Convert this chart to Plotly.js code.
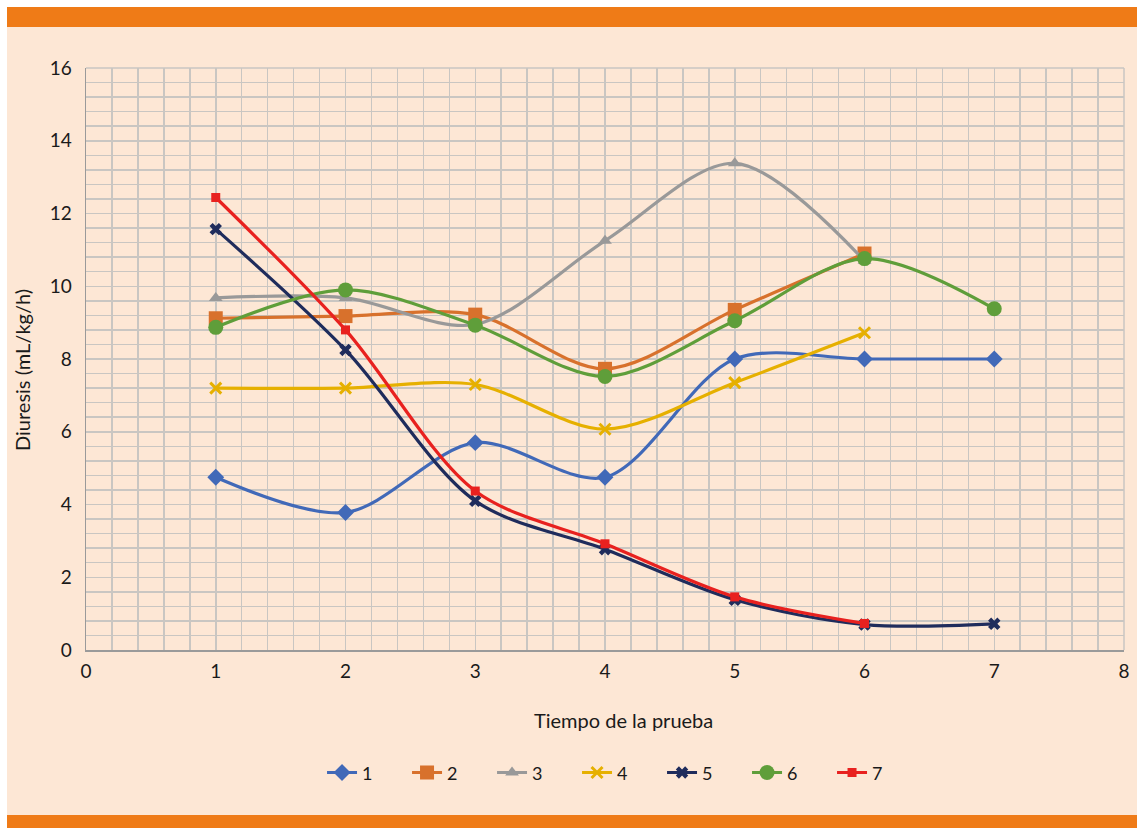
<!DOCTYPE html>
<html><head><meta charset="utf-8">
<script src="https://cdn.plot.ly/plotly-3.0.1.min.js"></script>
<style>
html,body{margin:0;padding:0;background:#fff;width:1137px;height:828px;overflow:hidden;}
#frame{position:absolute;left:7px;top:7px;width:1130px;height:821px;background:#FDE7D5;}
#topbar{position:absolute;left:7px;top:7px;width:1130px;height:20px;background:#EF7B17;}
#botbar{position:absolute;left:7px;top:815px;width:1130px;height:13px;background:#EF7B17;}
#chart{position:absolute;left:0;top:0;width:1137px;height:828px;}
</style></head>
<body>
<div id="frame"></div><div id="topbar"></div><div id="botbar"></div>
<div id="chart"></div>
<script>
const seriesNames = ['1','2','3','4','5','6','7'];
const x1 = [1,2,3,4,5,6,7];
const y1 = [4.75,3.78,5.7,4.75,8.0,8.0,8.0];
const x2 = [1,2,3,4,5,6];
const y2 = [9.12,9.18,9.22,7.73,9.35,10.9];
const x3 = [1,2,3,4,5,6];
const y3 = [9.68,9.68,8.95,11.25,13.38,10.7];
const x4 = [1,2,3,4,5,6];
const y4 = [7.2,7.2,7.3,6.07,7.35,8.72];
const x5 = [1,2,3,4,5,6,7];
const y5 = [11.57,8.25,4.1,2.77,1.38,0.7,0.72];
const x6 = [1,2,3,4,5,6,7];
const y6 = [8.87,9.9,8.93,7.52,9.05,10.76,9.38];
const x7 = [1,2,3,4,5,6];
const y7 = [12.44,8.8,4.37,2.92,1.46,0.73];
const xTicks = [0,1,2,3,4,5,6,7,8];
const yTicks = [0,2,4,6,8,10,12,14,16];
const xTitle = 'Tiempo de la prueba';
const yTitle = 'Diuresis (mL/kg/h)';

const styles = [
  {color:'#4169B8', symbol:'diamond', size:13},
  {color:'#D8712C', symbol:'square', size:14},
  {color:'#999999', symbol:'triangle-up', size:12},
  {color:'#E6B000', symbol:'x-thin', size:11},
  {color:'#1F2C5C', symbol:'x', size:11},
  {color:'#5F9E3A', symbol:'circle', size:15},
  {color:'#E8211F', symbol:'square', size:9}
];
const xs=[x1,x2,x3,x4,x5,x6,x7], ys=[y1,y2,y3,y4,y5,y6,y7];
const traces = seriesNames.map((n,i)=>{
  const s=styles[i];
  const m={color:s.color, symbol:s.symbol, size:s.size};
  if(s.symbol==='x-thin'){ m.line={color:s.color,width:3}; }
  return {x:xs[i], y:ys[i], name:n, type:'scatter', mode:'lines+markers',
    line:{color:s.color, width:3.2, shape:'spline', smoothing:0.9}, marker:m};
});

const fam = 'Lato, "Open Sans", sans-serif';
const layout = {
  width:1137, height:828,
  paper_bgcolor:'rgba(0,0,0,0)', plot_bgcolor:'rgba(0,0,0,0)',
  margin:{l:86, r:13, t:68, b:178},
  font:{family:fam, color:'#1a1a1a'},
  showlegend:true,
  legend:{orientation:'h', x:0.514, xanchor:'center', y:-0.211, yanchor:'middle',
    font:{family:fam, size:18, color:'#1a1a1a'}, entrywidth:40, bgcolor:'rgba(0,0,0,0)'},
  xaxis:{range:[0,8], tickvals:xTicks, ticktext:xTicks.map(String), showgrid:true, gridcolor:'#C9C6C2', gridwidth:1.5,
    minor:{dtick:0.2, showgrid:true, gridcolor:'#C9C6C2', gridwidth:1.5},
    showline:true, linecolor:'#9A9A9A', linewidth:1.5, zeroline:false, ticks:'',
    ticklabelstandoff:4, tickfont:{size:19}},
  yaxis:{range:[0,16], tickvals:yTicks, ticktext:yTicks.map(String), showgrid:true, gridcolor:'#C9C6C2', gridwidth:1.5,
    minor:{dtick:0.4, showgrid:true, gridcolor:'#C9C6C2', gridwidth:1.5},
    showline:true, linecolor:'#9A9A9A', linewidth:1.5, zeroline:false, ticks:'',
    ticklabelstandoff:9, tickfont:{size:19}},
  annotations:[
    {text:xTitle, xref:'paper', yref:'paper', x:(624-86)/1038, y:(650-720)/582, xanchor:'center', yanchor:'middle',
     showarrow:false, font:{family:fam, size:20, color:'#1a1a1a'}},
    {text:yTitle, xref:'paper', yref:'paper', x:(22-86)/1038, y:(650-370)/582, xanchor:'center', yanchor:'middle',
     textangle:-90, showarrow:false, font:{family:fam, size:20, color:'#1a1a1a'}}
  ],
  shapes:[
    {type:'line', xref:'paper', yref:'paper', x0:0, x1:1, y0:1, y1:1, line:{color:'#C9C6C2', width:1.5}},
    {type:'line', xref:'paper', yref:'paper', x0:1, x1:1, y0:0, y1:1, line:{color:'#C9C6C2', width:1.5}}
  ]
};
Plotly.newPlot('chart', traces, layout, {displayModeBar:false, staticPlot:true});
</script>
</body></html>
